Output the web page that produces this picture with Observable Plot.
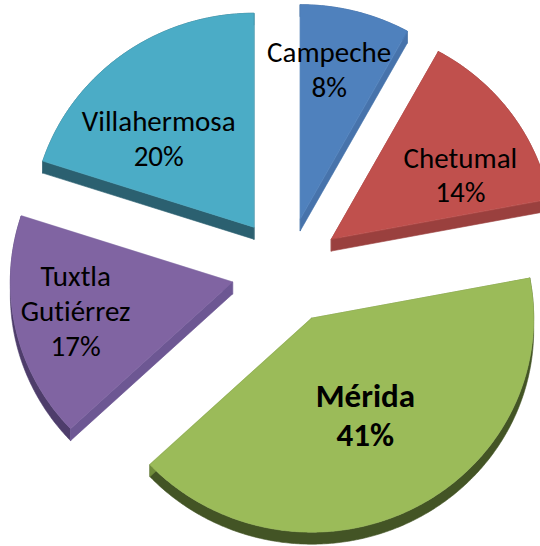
<!DOCTYPE html>
<html><head><meta charset="utf-8">
<script src="https://cdn.jsdelivr.net/npm/d3@7"></script>
<script src="https://cdn.jsdelivr.net/npm/@observablehq/plot@0.6"></script>
<style>body{margin:0;background:#fff} #chart{width:540px;height:546px} svg text{font-variant-ligatures:none;font-feature-settings:"liga" 0}</style>
</head><body><div id="chart"></div>
<script>
// ---- data ----
const cities = ["Campeche", "Chetumal", "Mérida", "Tuxtla\nGutiérrez", "Villahermosa"];
const shares = [8, 14, 41, 17, 20];
const shareLabels = ["8%", "14%", "41%", "17%", "20%"];

// ---- styles / layout ----
const topColors  = ["#4f81bd", "#c0504d", "#9bbb59", "#8064a2", "#4bacc6"];
const edgeColors = ["#4773ab", "#9a403e", "#6f8a3a", "#6d5793", "#2b6070"];
const rimColors  = ["#3b6193", "#8a3836", "#435425", "#4e3d6b", "#2b6070"];
const labelR  = [0.70, 0.65, 0.52, 0.72, 0.59];
const labelDa = [-3.7, 9.4, -0.7, 1.2, -10.6];

const W = 540, H = 546, CX = 286, CY = 270, RX = 222, RY = 214;
const EXPLODE = 0.25, DEPTH = 12 / RY;
const font = "Carlito, Calibri, Lato, sans-serif";

const arcs = d3.pie().sort(null).value(d => d)(shares);

const slices = arcs.map((a, i) => {
  const mid = (a.startAngle + a.endAngle) / 2;
  const ox = EXPLODE * Math.sin(mid), oy = EXPLODE * Math.cos(mid);
  const n = Math.max(2, Math.ceil((a.endAngle - a.startAngle) / (Math.PI / 360)));
  const arcPts = d3.range(n + 1).map(k => {
    const t = a.startAngle + (a.endAngle - a.startAngle) * k / n;
    return {x: ox + Math.sin(t), y: oy + Math.cos(t)};
  });
  const apex = {x: ox, y: oy};
  const dn = p => ({x: p.x, y: p.y - DEPTH});
  const first = arcPts[0], last = arcPts[arcPts.length - 1];
  const la = mid + labelDa[i] * Math.PI / 180;
  return {
    i, oy,
    top: [apex, ...arcPts],
    rim: [...arcPts, ...arcPts.slice().reverse().map(dn)],
    edgeA: [apex, first, dn(first), dn(apex)],
    edgeB: [apex, last, dn(last), dn(apex)],
    label: {x: ox + labelR[i] * Math.sin(la), y: oy + labelR[i] * Math.cos(la),
            text: cities[i] + "\n" + shareLabels[i], bold: i === 2}
  };
});

const order = slices.slice().sort((a, b) => b.oy - a.oy);
const poly = (pts, color) => Plot.line(pts, {x: "x", y: "y", curve: "linear-closed",
  fill: color, stroke: color, strokeWidth: 0.6});

const marks = [];
for (const s of order) {
  marks.push(poly(s.rim, rimColors[s.i]));
  marks.push(poly(s.edgeA, edgeColors[s.i]));
  marks.push(poly(s.edgeB, edgeColors[s.i]));
  marks.push(poly(s.top, topColors[s.i]));
}
const labelData = slices.map(s => s.label);
marks.push(Plot.text(labelData.filter(d => !d.bold), {x: "x", y: "y", text: "text", dy: -3,
  fontSize: 29, lineHeight: 1.2, fill: "#000", fontFamily: font}));
marks.push(Plot.text(labelData.filter(d => d.bold), {x: "x", y: "y", text: "text", dy: -3,
  fontSize: 33, lineHeight: 1.2, fontWeight: "bold", fill: "#000", fontFamily: font}));

const chart = Plot.plot({
  width: W, height: H, margin: 0,
  style: {background: "#fff", fontFamily: font},
  x: {domain: [-CX / RX, (W - CX) / RX], axis: null},
  y: {domain: [-(H - CY) / RY, CY / RY], axis: null},
  marks
});
document.getElementById("chart").append(chart);
</script>
</body></html>
